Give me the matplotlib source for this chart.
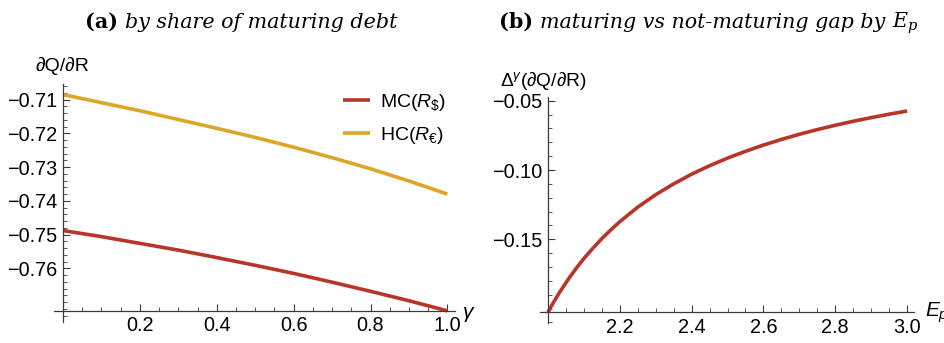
import matplotlib
matplotlib.use("Agg")
import matplotlib.pyplot as plt
from matplotlib.ticker import FixedLocator, MultipleLocator, NullFormatter

# ---- data -------------------------------------------------------------
gamma = [0.0, 0.1, 0.2, 0.3, 0.4, 0.5, 0.6, 0.7, 0.8, 0.9, 1.0]
mc_dqdr = [-0.7488, -0.7506, -0.7526, -0.7546, -0.7568, -0.7591, -0.7615,
           -0.7641, -0.7668, -0.7696, -0.7726]
hc_dqdr = [-0.7085, -0.7109, -0.7133, -0.7159, -0.7185, -0.7212, -0.7241,
           -0.7272, -0.7305, -0.7341, -0.7380]

ep = [2.00, 2.01, 2.02, 2.03, 2.04, 2.06, 2.08, 2.10, 2.125, 2.15, 2.175,
      2.20, 2.25, 2.30, 2.35, 2.40, 2.45, 2.50, 2.55, 2.60, 2.65, 2.70,
      2.75, 2.80, 2.85, 2.90, 2.95, 3.00]
gap = [-0.2027, -0.1980, -0.1936, -0.1893, -0.1853, -0.1776, -0.1705,
       -0.1639, -0.1565, -0.1495, -0.1432, -0.1373, -0.1268, -0.1178,
       -0.1100, -0.1030, -0.0969, -0.0914, -0.0865, -0.0820, -0.0779,
       -0.0742, -0.0708, -0.0677, -0.0648, -0.0622, -0.0597, -0.0574]

a_xticks = [0.2, 0.4, 0.6, 0.8, 1.0]
a_xlabels = ["0.2", "0.4", "0.6", "0.8", "1.0"]
a_yticks = [-0.71, -0.72, -0.73, -0.74, -0.75, -0.76]
a_ylabels = ["\u22120.71", "\u22120.72", "\u22120.73", "\u22120.74", "\u22120.75", "\u22120.76"]
b_xticks = [2.2, 2.4, 2.6, 2.8, 3.0]
b_xlabels = ["2.2", "2.4", "2.6", "2.8", "3.0"]
b_yticks = [-0.05, -0.10, -0.15]
b_ylabels = ["\u22120.05", "\u22120.10", "\u22120.15"]

legend_labels = [r"MC($R_\$$)", "HC($R_€$)"]

# ---- style ------------------------------------------------------------
RED = "#B8352A"
GOLD = "#DCA628"
AXC = "#3a3a3a"
plt.rcParams["font.family"] = ["Liberation Sans", "DejaVu Sans"]
plt.rcParams["mathtext.fontset"] = "custom"
plt.rcParams["mathtext.rm"] = "Liberation Sans"
plt.rcParams["mathtext.it"] = "Liberation Sans:italic"
plt.rcParams["mathtext.bf"] = "Liberation Sans:bold"

W, H = 944, 343
fig = plt.figure(figsize=(W / 100, H / 100), dpi=100)


def box(left, top, right, bottom):
    return [left / W, 1 - bottom / H, (right - left) / W, (bottom - top) / H]


def style_axes(ax, xorig, yorig):
    for s in ("top", "right"):
        ax.spines[s].set_visible(False)
    ax.spines["left"].set_position(("data", xorig))
    ax.spines["bottom"].set_position(("data", yorig))
    for s in ("left", "bottom"):
        ax.spines[s].set_color(AXC)
        ax.spines[s].set_linewidth(0.9)
    ax.tick_params(which="major", direction="in", length=5, width=0.8,
                   color=AXC, labelsize=14.3, pad=4)
    ax.tick_params(which="minor", direction="in", length=3, width=0.6,
                   color=AXC)
    ax.xaxis.set_minor_formatter(NullFormatter())
    ax.yaxis.set_minor_formatter(NullFormatter())


# ---- panel (a) ---------------------------------------------------------
ax1 = fig.add_axes(box(54, 84.1, 454.9, 322))
ax1.plot(gamma, mc_dqdr, color=RED, lw=2.6, solid_capstyle="butt",
         label=legend_labels[0])
ax1.plot(gamma, hc_dqdr, color=GOLD, lw=2.6, solid_capstyle="butt",
         label=legend_labels[1])
ax1.set_xlim(-0.0234, 1.0195)
ax1.set_ylim(-0.7759, -0.7054)
style_axes(ax1, 0.0, min(mc_dqdr))
ax1.xaxis.set_major_locator(FixedLocator(a_xticks))
ax1.set_xticklabels(a_xlabels)
ax1.xaxis.set_minor_locator(MultipleLocator(0.05))
ax1.yaxis.set_major_locator(FixedLocator(a_yticks))
ax1.set_yticklabels(a_ylabels)
ax1.yaxis.set_minor_locator(MultipleLocator(0.002))
ax1.legend(loc="upper left", bbox_to_anchor=(343 / W, 1 - 92 / H),
           bbox_transform=fig.transFigure, frameon=False, fontsize=14,
           handlelength=1.4, handletextpad=0.5, labelspacing=0.62,
           borderpad=0, borderaxespad=0)

# ---- panel (b) ---------------------------------------------------------
ax2 = fig.add_axes(box(540.4, 97, 913.6, 322.7))
ax2.plot(ep, gap, color=RED, lw=2.6, solid_capstyle="butt")
ax2.set_xlim(1.979, 3.018)
ax2.set_ylim(-0.2102, -0.0473)
style_axes(ax2, 2.0, gap[0])
ax2.xaxis.set_major_locator(FixedLocator(b_xticks))
ax2.set_xticklabels(b_xlabels)
ax2.xaxis.set_minor_locator(MultipleLocator(0.05))
ax2.yaxis.set_major_locator(FixedLocator(b_yticks))
ax2.set_yticklabels(b_ylabels)
ax2.yaxis.set_minor_locator(MultipleLocator(0.01))

# ---- axis labels -------------------------------------------------------
fig.text(62 / W, 1 - 66 / H, "∂Q/∂R", ha="center", va="center", fontsize=14)
fig.text(500 / W, 1 - 81.5 / H, r"Δ$^{\gamma}$(∂Q/∂R)", ha="left",
         va="center", fontsize=13.8)
fig.text(462 / W, 1 - 314 / H, r"$\gamma$", ha="left", va="center", fontsize=15)
fig.text(925 / W, 1 - 313 / H, r"$E_p$", ha="left", va="center", fontsize=15)

# ---- panel titles (bold tag + italic caption) --------------------------
renderer = fig.canvas.get_renderer()

TS = 14.9
BASE = 27.5
bold = dict(family="DejaVu Serif", weight="bold", fontsize=TS)
ital = dict(family="DejaVu Serif", style="italic", fontsize=TS)
gapw = TS * 100 / 72 * 0.32


def put(x_px, s, **kw):
    t = fig.text(x_px / W, 1 - BASE / H, s, ha="left", va="baseline", **kw)
    return x_px + t.get_window_extent(renderer).width


xa = put(85, "(a)", **bold)
put(xa + gapw, "by share of maturing debt", **ital)

xb = put(499, "(b)", **bold)
xb = put(xb + gapw, "maturing vs not-maturing gap by", **ital)
put(xb + gapw, r"$E_p$", fontsize=TS, math_fontfamily="dejavuserif")

fig.savefig("out.png", dpi=100)
